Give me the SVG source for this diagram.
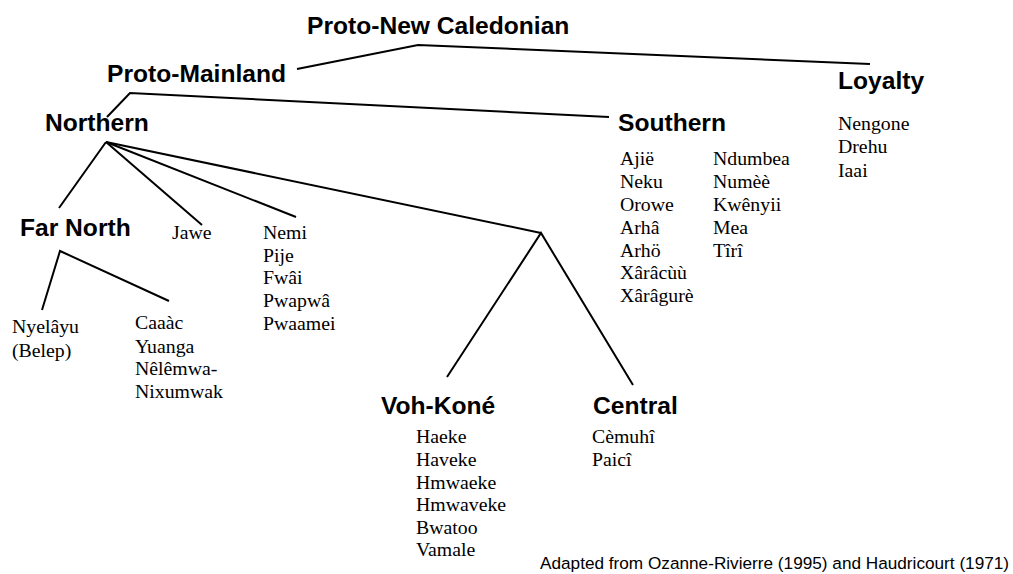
<svg xmlns="http://www.w3.org/2000/svg" width="1013" height="574" viewBox="0 0 1013 574">
<style>
.b{font-family:"Liberation Sans",Arial,sans-serif;font-weight:bold;font-size:24.6px;fill:#000}
.s{font-family:"Liberation Serif","Times New Roman",serif;font-size:19.8px;fill:#000}
.n{font-family:"Liberation Sans",Arial,sans-serif;font-size:17.2px;fill:#000}
.c{fill:none;stroke:#000;stroke-width:2;stroke-linejoin:miter}
</style>
<rect width="1013" height="574" fill="#fff"/>
<g id="connectors">
<polyline class="c" points="297,69 418,45 870,64"/>
<polyline class="c" points="107,117 130,93 609,117"/>
<line class="c" x1="106" y1="142" x2="59" y2="208"/>
<line class="c" x1="106" y1="142" x2="202" y2="225"/>
<line class="c" x1="106" y1="142" x2="296" y2="217"/>
<line class="c" x1="106" y1="142" x2="541" y2="233"/>
<polyline class="c" points="447,377 541,233 633,385"/>
<polyline class="c" points="42,310 60,251 169,301"/>
</g>
<g id="proto-new-caledonian"><text class="b" x="307" y="34">Proto-New Caledonian</text></g>
<g id="proto-mainland"><text class="b" x="107" y="82">Proto-Mainland</text></g>
<g id="northern"><text class="b" x="45" y="131">Northern</text></g>
<g id="southern"><text class="b" x="618" y="131">Southern</text>
<text class="s" x="620" y="165">Ajië</text>
<text class="s" x="620" y="188">Neku</text>
<text class="s" x="620" y="211">Orowe</text>
<text class="s" x="620" y="234">Arhâ</text>
<text class="s" x="620" y="257">Arhö</text>
<text class="s" x="620" y="279">Xârâcùù</text>
<text class="s" x="620" y="302">Xârâgurè</text>
<text class="s" x="713" y="165">Ndumbea</text>
<text class="s" x="713" y="188">Numèè</text>
<text class="s" x="713" y="211">Kwênyii</text>
<text class="s" x="713" y="234">Mea</text>
<text class="s" x="713" y="257">Tîrî</text>
</g>
<g id="loyalty"><text class="b" x="838" y="89">Loyalty</text>
<text class="s" x="838" y="130">Nengone</text>
<text class="s" x="838" y="153">Drehu</text>
<text class="s" x="838" y="177">Iaai</text>
</g>
<g id="far-north"><text class="b" x="20" y="236">Far North</text></g>
<g id="nyelayu"><text class="s" x="12" y="333">Nyelâyu</text>
<text class="s" x="12" y="357">(Belep)</text></g>
<g id="caaac"><text class="s" x="135" y="329">Caaàc</text>
<text class="s" x="135" y="353">Yuanga</text>
<text class="s" x="135" y="375">Nêlêmwa-</text>
<text class="s" x="135" y="398">Nixumwak</text></g>
<g id="jawe"><text class="s" x="172" y="239">Jawe</text></g>
<g id="nemi"><text class="s" x="263" y="239">Nemi</text>
<text class="s" x="263" y="262">Pije</text>
<text class="s" x="263" y="284">Fwâi</text>
<text class="s" x="263" y="307">Pwapwâ</text>
<text class="s" x="263" y="330">Pwaamei</text></g>
<g id="voh-kone"><text class="b" x="381" y="414">Voh-Koné</text>
<text class="s" x="416" y="443">Haeke</text>
<text class="s" x="416" y="466">Haveke</text>
<text class="s" x="416" y="489">Hmwaeke</text>
<text class="s" x="416" y="511">Hmwaveke</text>
<text class="s" x="416" y="534">Bwatoo</text>
<text class="s" x="416" y="556">Vamale</text></g>
<g id="central"><text class="b" x="593" y="414">Central</text>
<text class="s" x="592" y="443">Cèmuhî</text>
<text class="s" x="592" y="466">Paicî</text></g>
<g id="caption"><text class="n" x="540" y="569">Adapted from Ozanne-Rivierre (1995) and Haudricourt (1971)</text></g>
</svg>
